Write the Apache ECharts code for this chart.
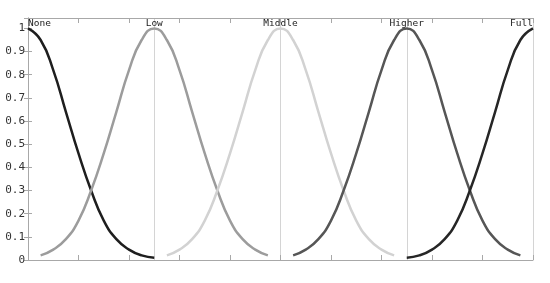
<!DOCTYPE html>
<html>
<head>
<meta charset="utf-8">
<script src="https://cdn.jsdelivr.net/npm/echarts@6/dist/echarts.min.js"></script>
<style>
  html, body { margin: 0; padding: 0; background: #fff; }
  #chart { width: 550px; height: 283px; }
</style>
</head>
<body>
<div id="chart"></div>
<script>
// x positions of the samples (0 .. 1, step 0.025)
var xs = [0, 0.025, 0.05, 0.075, 0.1, 0.125, 0.15, 0.175, 0.2, 0.225,
          0.25, 0.275, 0.3, 0.325, 0.35, 0.375, 0.4, 0.425, 0.45, 0.475,
          0.5, 0.525, 0.55, 0.575, 0.6, 0.625, 0.65, 0.675, 0.7, 0.725,
          0.75, 0.775, 0.8, 0.825, 0.85, 0.875, 0.9, 0.925, 0.95, 0.975, 1];

// membership values, null where the curve is not drawn
var noneVals = [1, 0.95, 0.82, 0.64, 0.46, 0.3, 0.17, 0.09, 0.045, 0.02,
                0.01, null, null, null, null, null, null, null, null, null,
                null, null, null, null, null, null, null, null, null, null,
                null, null, null, null, null, null, null, null, null, null, null];
var lowVals = [null, 0.02, 0.045, 0.09, 0.17, 0.3, 0.46, 0.64, 0.82, 0.95,
               1, 0.95, 0.82, 0.64, 0.46, 0.3, 0.17, 0.09, 0.045, 0.02,
               null, null, null, null, null, null, null, null, null, null,
               null, null, null, null, null, null, null, null, null, null, null];
var middleVals = [null, null, null, null, null, null, null, null, null, null,
                  null, 0.02, 0.045, 0.09, 0.17, 0.3, 0.46, 0.64, 0.82, 0.95,
                  1, 0.95, 0.82, 0.64, 0.46, 0.3, 0.17, 0.09, 0.045, 0.02,
                  null, null, null, null, null, null, null, null, null, null, null];
var higherVals = [null, null, null, null, null, null, null, null, null, null,
                  null, null, null, null, null, null, null, null, null, null,
                  null, 0.02, 0.045, 0.09, 0.17, 0.3, 0.46, 0.64, 0.82, 0.95,
                  1, 0.95, 0.82, 0.64, 0.46, 0.3, 0.17, 0.09, 0.045, 0.02, null];
var fullVals = [null, null, null, null, null, null, null, null, null, null,
                null, null, null, null, null, null, null, null, null, null,
                null, null, null, null, null, null, null, null, null, null,
                0.01, 0.02, 0.045, 0.09, 0.17, 0.3, 0.46, 0.64, 0.82, 0.95, 1];

var names = ['None', 'Low', 'Middle', 'Higher', 'Full'];
var centers = [0, 0.25, 0.5, 0.75, 1];

var chart = echarts.init(document.getElementById('chart'));

function pairs(vals) {
    var out = [];
    for (var i = 0; i < xs.length; i++) {
        out.push([xs[i], vals[i] === null ? '-' : vals[i]]);
    }
    return out;
}

function curve(name, vals, color) {
    return {
        name: name,
        type: 'line',
        xAxisIndex: 0,
        data: pairs(vals),
        smooth: true,
        showSymbol: false,
        connectNulls: false,
        lineStyle: { color: color, width: 2.5 },
        z: 3
    };
}

var axisGray = '#a8a8a8';
var mono = 'DejaVu Sans Mono';

var option = {
    animation: false,
    backgroundColor: '#fff',
    grid: { left: 28, right: 17, top: 18, bottom: 23 },
    xAxis: [{
        // bottom frame
        type: 'value', position: 'bottom', min: 0, max: 1, interval: 0.1,
        axisLine: { show: true, lineStyle: { color: axisGray } },
        axisTick: { show: true, inside: true, length: 5, lineStyle: { color: axisGray } },
        axisLabel: { show: false },
        splitLine: { show: false }
    }, {
        // top frame
        type: 'value', position: 'top', min: 0, max: 1, interval: 0.1,
        axisLine: { show: true, onZero: false, lineStyle: { color: axisGray } },
        axisTick: { show: true, inside: true, length: 5, lineStyle: { color: axisGray } },
        axisLabel: { show: false },
        splitLine: { show: false }
    }, {
        // names of the sets and the vertical guides
        type: 'value', position: 'top', min: 0, max: 1, interval: 0.25,
        axisLine: { show: false },
        axisTick: { show: false },
        axisLabel: {
            show: true, inside: true, margin: 1,
            fontFamily: mono, fontSize: 9.5, color: '#222',
            verticalAlign: 'top',
            alignMinLabel: 'left', alignMaxLabel: 'right',
            formatter: function (v) {
                var i = centers.indexOf(Math.round(v * 100) / 100);
                return i >= 0 ? names[i] : '';
            }
        },
        splitLine: { show: true, lineStyle: { color: '#d4d4d4', width: 1 } }
    }],
    yAxis: [{
        type: 'value', position: 'left', min: 0, max: 1.045, interval: 0.1,
        axisLine: { show: true, lineStyle: { color: axisGray } },
        axisTick: { show: true, inside: true, length: 4, lineStyle: { color: axisGray } },
        axisLabel: {
            color: '#333', fontFamily: mono, fontSize: 11, margin: 3,
            showMaxLabel: false,
            formatter: function (v) {
                if (v > 1.0001) return '';
                return String(Math.round(v * 10) / 10);
            }
        },
        splitLine: { show: false }
    }, {
        type: 'value', position: 'right', min: 0, max: 1.045, interval: 0.1,
        axisLine: { show: true, lineStyle: { color: axisGray } },
        axisTick: { show: true, inside: true, length: 4, lineStyle: { color: axisGray } },
        axisLabel: { show: false },
        splitLine: { show: false }
    }],
    series: [
        curve(names[0], noneVals, '#1e1e1e'),
        curve(names[1], lowVals, '#9c9c9c'),
        curve(names[2], middleVals, '#d2d2d2'),
        curve(names[3], higherVals, '#565656'),
        curve(names[4], fullVals, '#262626')
    ]
};

chart.setOption(option);
</script>
</body>
</html>
